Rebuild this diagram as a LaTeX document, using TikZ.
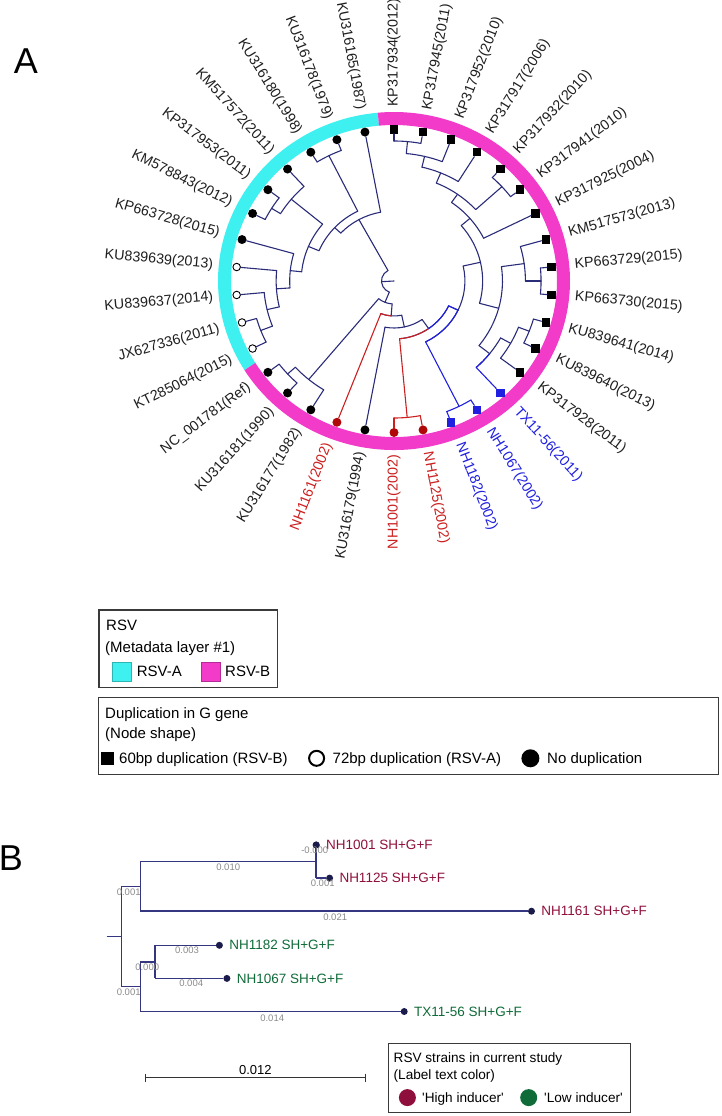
\documentclass[tikz,border=0pt]{standalone}
\usepackage{fontspec}
\setmainfont{Liberation Sans}
\usetikzlibrary{positioning, calc, arrows.meta}
\definecolor{treenavy}{HTML}{2A2C7A}
\definecolor{nhred}{HTML}{CC2020}
\definecolor{nhblue}{HTML}{2020E0}
\definecolor{dotred}{HTML}{B00808}
\definecolor{rsva}{HTML}{3FF0F0}
\definecolor{rsvb}{HTML}{F23BC9}
\definecolor{highind}{HTML}{8F0F3C}
\definecolor{lowind}{HTML}{0F6B38}
\definecolor{lenlabel}{HTML}{8A8A8A}
\definecolor{frame}{HTML}{3A3A3A}
\definecolor{twignavy}{HTML}{34367F}
\definecolor{tipnavy}{HTML}{1C1C4C}
\colorlet{brn}{treenavy}\colorlet{mkn}{black}\colorlet{txn}{black!88}
\colorlet{brr}{nhred}\colorlet{mkr}{dotred}\colorlet{txr}{nhred}
\colorlet{brb}{nhblue}\colorlet{mkb}{nhblue}\colorlet{txb}{nhblue}
\tikzset{
  branch/.style={draw=#1, line width=1.1pt, line cap=round},
  branch/.default=treenavy,
  dotmark/.style={circle, fill=#1, inner sep=0pt, minimum size=9pt},
  openmark/.style={circle, draw=#1, fill=white, line width=0.9pt, inner sep=0pt, minimum size=7.5pt},
  sqmark/.style={rectangle, fill=#1, inner sep=0pt, minimum size=8.5pt},
  tiplabel/.style={font=\fontsize{14.3}{16}\selectfont, inner sep=0pt},
  legbox/.style={draw=frame, line width=1.2pt, inner sep=0pt, anchor=north west},
  legtxt/.style={font=\fontsize{15}{17}\selectfont, anchor=base west, inner sep=0pt},
  swatch/.style={fill=#1, draw=#1!75!black, line width=0.6pt, inner sep=0pt, minimum size=19pt, anchor=north west},
  panel/.style={font=\fontsize{36}{36}\selectfont, inner sep=0pt},
  twig/.style={draw=twignavy, line width=1.5pt},
  tipdot/.style={circle, fill=tipnavy, inner sep=0pt, minimum size=7pt},
  strain/.style={font=\fontsize{13.5}{15}\selectfont, inner sep=0pt, text=#1},
  blen/.style={font=\fontsize{9.5}{10}\selectfont, text=lenlabel, inner sep=0pt},
  smalltxt/.style={font=\fontsize{13.6}{15}\selectfont, anchor=base west, inner sep=0pt},
}
\begin{document}
\begin{tikzpicture}[x=1pt, y=-1pt]
  \useasboundingbox (0,0) rectangle (722,1116);
  \node[panel] (panelA) at (25.8,61.6) {A};

  \begin{scope}[shift={(394,281)}, yscale=-1, xscale=1.043]
    \draw[rsva, line width=13pt] (95.29:162.5) arc[start angle=95.29, end angle=211.76, radius=162.5];
    \draw[rsvb, line width=13pt] (211.76:162.5) arc[start angle=211.76, end angle=455.29, radius=162.5];

    \foreach \n/\r/\a/\b/\p/\k in {
      root/12/118.7/247.9/0/n, c0/70/100.59/136.82/12/n, cy/78/116.47/157.17/70/n,
      c23/140/111.18/121.76/78/n, cz/89/140.29/174.04/78/n, c456/128/132.35/148.24/89/n,
      c56/138/142.94/153.53/128/n, cw7/100/164.12/183.97/89/n, cv8/113/174.71/193.24/100/n,
      cx9/125/185.29/201.18/113/n, cx10/137/195.88/206.47/125/n,
      s3/23/230.29/265.5/12/n, d14/128/222.35/238.24/23/n, d12/138/217.06/227.65/128/n,
      s2/35/248.82/282.18/23/n, s1/47/259.41/304.95/35/n, q/58/275.29/334.6/47/n,
      p17/137/270/280.59/58/r, bb/68/296.47/372.74/58/n, p19/140/291.18/301.76/68/b,
      k10/85/344.78/400.7/68/n, k9/104/321.62/367.94/85/n, u/117/312.35/330.88/104/n,
      v/128/322.94/338.82/117/n, w/139/333.53/344.12/128/n, k8/126/360/375.88/104/n,
      k7/141/354.71/365.29/126/n, k6/96/386.47/414.93/85/n, k5/106/402.35/427.5/96/n,
      k4/140/397.06/407.65/106/n, k3/117/418.24/436.76/106/n, k2/128/428.82/444.71/117/n,
      k1/140/439.41/450/128/n}{
      \pgfmathsetmacro\m{(\a+\b)/2}
      \coordinate (\n) at (\m:\r);
      \draw[branch=br\k] (\a:\r) arc[start angle=\a, end angle=\b, radius=\r];
      \draw[branch=br\k] (\m:\p) -- (\n);
    }
    \foreach \r/\a/\b/\k in {35/248.82/265.5/r, 58/275.29/304.95/r, 58/304.95/334.6/b,
      68/296.47/334.6/b, 117/312.35/321.62/b}{
      \draw[branch=br\k] (\a:\r) arc[start angle=\a, end angle=\b, radius=\r];
    }
    \draw[branch=nhblue] (334.6:58) -- (bb);

    \foreach \i/\p/\mk/\k/\t in {
      0/140/sqmark/n/KP317934(2012), 1/70/dotmark/n/KU316165(1987),
      2/140/dotmark/n/KU316178(1979), 3/140/dotmark/n/KU316180(1998),
      4/128/dotmark/n/KM517572(2011), 5/138/dotmark/n/KP317953(2011),
      6/138/dotmark/n/KM578843(2012), 7/100/dotmark/n/KP663728(2015),
      8/113/openmark/n/KU839639(2013), 9/125/openmark/n/KU839637(2014),
      10/137/openmark/n/JX627336(2011), 11/137/openmark/n/KT285064(2015),
      12/138/dotmark/n/NC\_001781(Ref), 13/138/dotmark/n/KU316181(1990),
      14/128/dotmark/n/KU316177(1982), 15/35/dotmark/r/NH1161(2002),
      16/47/dotmark/n/KU316179(1994), 17/137/dotmark/r/NH1001(2002),
      18/137/dotmark/r/NH1125(2002), 19/140/sqmark/b/NH1182(2002),
      20/140/sqmark/b/NH1067(2002), 21/117/sqmark/b/TX11-56(2011),
      22/128/sqmark/n/KP317928(2011), 23/139/sqmark/n/KU839640(2013),
      24/139/sqmark/n/KU839641(2014), 25/141/sqmark/n/KP663730(2015),
      26/141/sqmark/n/KP663729(2015), 27/126/sqmark/n/KM517573(2013),
      28/96/sqmark/n/KP317925(2004), 29/140/sqmark/n/KP317941(2010),
      30/140/sqmark/n/KP317932(2010), 31/117/sqmark/n/KP317917(2006),
      32/128/sqmark/n/KP317952(2010), 33/140/sqmark/n/KP317945(2011)}{
      \pgfmathsetmacro\ang{90+\i*360/34}
      \node[\mk=mk\k] (leaf\i) at (\ang:151.5) {};
      \draw[branch=br\k] (\ang:\p) -- (leaf\i);
      \pgfmathtruncatemacro\lft{(\ang>90.5)&&(\ang<270.5)}
      \ifnum\lft=1
        \node[tiplabel, text=tx\k, anchor=east, rotate=\ang-180] (tip\i) at (\ang:174) {\t};
      \else
        \node[tiplabel, text=tx\k, anchor=west, rotate=\ang] (tip\i) at (\ang:174) {\t};
      \fi
    }
  \end{scope}

  \node[legbox, minimum width=178.4pt, minimum height=77.4pt] (rsvbox) at (98.3,609.3) {};
  \node[legtxt] (rsvtitle) at (106,630.4) {RSV};
  \node[legtxt] (rsvsub) at (105,652) {(Metadata layer \#1)};
  \node[swatch=rsva] (swa) at (111.5,661.7) {};
  \node[legtxt] (swatxt) at (136.7,676.4) {RSV-A};
  \node[swatch=rsvb] (swb) at (200.5,661.7) {};
  \node[legtxt] (swbtxt) at (225,676.4) {RSV-B};

  \node[legbox, minimum width=620pt, minimum height=77.3pt] (dupbox) at (98,696.7) {};
  \node[legtxt] (duptitle) at (105,718.2) {Duplication in G gene};
  \node[legtxt] (dupsub) at (105,738.5) {(Node shape)};
  \node[rectangle, fill=black, minimum size=13pt, inner sep=0pt] (dupsq) at (107.5,758.3) {};
  \node[legtxt] (dupsqtxt) at (119,763.7) {60bp duplication (RSV-B)};
  \node[circle, draw=black, line width=2pt, minimum size=15pt, inner sep=0pt] (dupopen) at (316.6,758.3) {};
  \node[legtxt] (dupopentxt) at (332.5,763.7) {72bp duplication (RSV-A)};
  \node[circle, fill=black, minimum size=18pt, inner sep=0pt] (dupdot) at (530.4,758.3) {};
  \node[legtxt] (dupdottxt) at (547,763.7) {No duplication};

  \node[panel] (panelB) at (11,858) {B};
  \coordinate (broot) at (106.5,936.7);
  \coordinate (bjoin) at (121.3,936.7);
  \coordinate (hinode) at (140.3,886.4);
  \coordinate (hipair) at (316.2,861.5);
  \coordinate (lonode) at (140.3,986.7);
  \coordinate (lopair) at (155.1,961.9);
  \node[tipdot] (d1001) at (316.2,845) {};
  \node[tipdot] (d1125) at (329.6,878.1) {};
  \node[tipdot] (d1161) at (531.5,911.2) {};
  \node[tipdot] (d1182) at (219.4,945.3) {};
  \node[tipdot] (d1067) at (226.9,978.4) {};
  \node[tipdot] (dtx) at (404.2,1011.5) {};
  \draw[twig] (broot) -- (bjoin);
  \draw[twig] (bjoin |- hinode) -- (bjoin |- lonode);
  \draw[twig] (bjoin |- hinode) -- (hinode);
  \draw[twig] (bjoin |- lonode) -- (lonode);
  \draw[twig] (hinode |- hipair) -- (hinode |- d1161);
  \draw[twig] (hinode |- hipair) -- (hipair);
  \draw[twig] (hipair |- d1001) -- (hipair |- d1125);
  \draw[twig] (hipair |- d1125) -- (d1125);
  \draw[twig] (hinode |- d1161) -- (d1161);
  \draw[twig] (lonode |- lopair) -- (lonode |- dtx);
  \draw[twig] (lonode |- lopair) -- (lopair);
  \draw[twig] (lopair |- d1182) -- (lopair |- d1067);
  \draw[twig] (lopair |- d1182) -- (d1182);
  \draw[twig] (lopair |- d1067) -- (d1067);
  \draw[twig] (lonode |- dtx) -- (dtx);
  \node[tipdot] at (d1001) {};

  \node[strain=highind, anchor=west, right=6pt of d1001] (t1001) {NH1001 SH+G+F};
  \node[strain=highind, anchor=west, right=6pt of d1125] (t1125) {NH1125 SH+G+F};
  \node[strain=highind, anchor=west, right=6pt of d1161] (t1161) {NH1161 SH+G+F};
  \node[strain=lowind, anchor=west, right=6pt of d1182] (t1182) {NH1182 SH+G+F};
  \node[strain=lowind, anchor=west, right=6pt of d1067] (t1067) {NH1067 SH+G+F};
  \node[strain=lowind, anchor=west, right=6pt of dtx] (ttx) {TX11-56 SH+G+F};

  \node[blen] (len1001) at (314.8,850.6) {-0.000};
  \node[blen] (lenhip) at (228.2,867.2) {0.010};
  \node[blen] (len1125) at (322.7,883) {0.001};
  \node[blen] (lenhi) at (128.7,892.3) {0.001};
  \node[blen] (len1161) at (335.2,917.2) {0.021};
  \node[blen] (len1182) at (187,950.6) {0.003};
  \node[blen] (lenlop) at (147.2,966.8) {0.000};
  \node[blen] (len1067) at (191.2,983.7) {0.004};
  \node[blen] (lenlo) at (128.7,992.3) {0.001};
  \node[blen] (lentx) at (272.2,1017.8) {0.014};

  \coordinate (sbleft) at (144.9,1077.7);
  \coordinate (sbright) at (365.7,1077.7);
  \draw[line width=1.1pt, black!80, {Bar[width=8pt]}-{Bar[width=8pt]}] (sbleft) -- (sbright);
  \node[font=\fontsize{13}{14}\selectfont, inner sep=0pt, anchor=base] (sblabel) at (255.3,1074) {0.012};

  \node[legbox, minimum width=241.6pt, minimum height=68.9pt] (strainbox) at (388,1042.6) {};
  \node[smalltxt] (straintitle) at (393.5,1062) {RSV strains in current study};
  \node[smalltxt] (strainsub) at (393.5,1079.5) {(Label text color)};
  \node[circle, fill=highind, minimum size=17pt, inner sep=0pt] (highdot) at (407.4,1097.6) {};
  \node[smalltxt] (hightxt) at (422,1102.5) {\textquotesingle High inducer\textquotesingle};
  \node[circle, fill=lowind, minimum size=17pt, inner sep=0pt] (lowdot) at (528.7,1097.6) {};
  \node[smalltxt] (lowtxt) at (544,1102.5) {\textquotesingle Low inducer\textquotesingle};
\end{tikzpicture}
\end{document}
